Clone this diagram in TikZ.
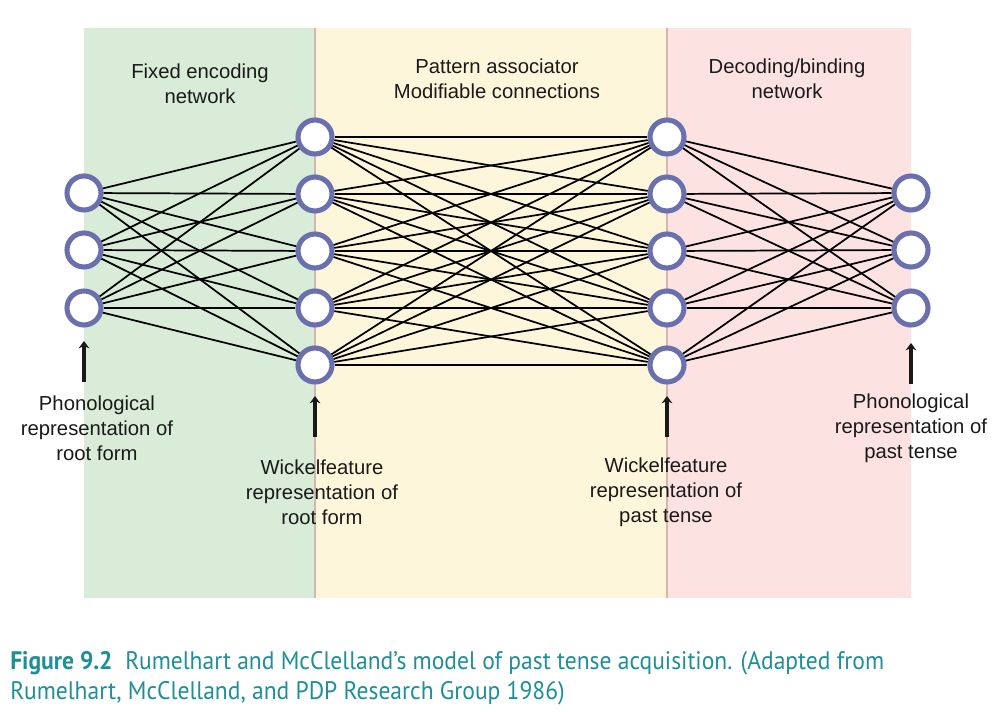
\documentclass[tikz,border=0pt]{standalone}
\usepackage{fontspec}
\setmainfont{Liberation Sans}
\newfontfamily\capfont[FakeStretch=0.93]{PT Sans}
\usetikzlibrary{arrows.meta}
\definecolor{pgreen}{HTML}{D8ECD8}
\definecolor{pyellow}{HTML}{FEF6DB}
\definecolor{ppink}{HTML}{FDE2E2}
\definecolor{divider}{HTML}{D2B6AF}
\definecolor{ring}{HTML}{6A6FAE}
\definecolor{teal}{HTML}{1E8F97}
\definecolor{txt}{HTML}{1A1A1A}
\tikzset{
  unit/.style={circle, draw=ring, fill=white, line width=3.8pt, minimum size=25.5pt, inner sep=0pt},
  conn/.style={line width=1.3pt, black},
  uparrow/.style={line width=2.6pt, black!90, -{Stealth[length=5.5pt,width=8pt]}},
  lbl/.style={text=txt, align=center, font=\fontsize{15.2}{18.75}\selectfont, inner sep=0pt},
}
\begin{document}
\begin{tikzpicture}[x=0.75pt,y=-0.75pt]
\useasboundingbox (0,0) rectangle (1000,712);
\fill[white] (0,0) rectangle (1000,712);
% panels
\fill[pgreen] (84,28) rectangle (315,598);
\fill[pyellow] (315,28) rectangle (667,598);
\fill[ppink] (667,28) rectangle (911,598);
\draw[divider, line width=2.2pt] (315,28) -- (315,598);
\draw[divider, line width=2.2pt] (667,28) -- (667,598);
% units
\foreach \i/\y in {1/193,2/250,3/308} {
  \node[unit] (a\i) at (84,\y) {};
  \node[unit] (d\i) at (911,\y) {};
}
\foreach \i/\y in {1/137,2/194,3/251,4/308,5/365} {
  \node[unit] (b\i) at (315,\y) {};
  \node[unit] (c\i) at (667,\y) {};
}
% connections
\foreach \i in {1,2,3} {
  \foreach \j in {1,...,5} {
    \draw[conn] (a\i) -- (b\j);
    \draw[conn] (c\j) -- (d\i);
  }
}
\foreach \i in {1,...,5} {
  \foreach \j in {1,...,5} {
    \draw[conn] (b\i) -- (c\j);
  }
}
% arrows
\coordinate (pa) at (84,382);
\coordinate (ta) at (84,341);
\coordinate (pb) at (315,437);
\coordinate (tb) at (315,396);
\coordinate (pc) at (667,437);
\coordinate (tc) at (667,396);
\coordinate (pd) at (911,384);
\coordinate (td) at (911,343);
\draw[uparrow] (pa) -- (ta);
\draw[uparrow] (pb) -- (tb);
\draw[uparrow] (pc) -- (tc);
\draw[uparrow] (pd) -- (td);
% labels
\node[lbl] (l1) at (200,84) {Fixed encoding\\network};
\node[lbl] (l2) at (497,79) {Pattern associator\\Modifiable connections};
\node[lbl] (l3) at (787,79) {Decoding/binding\\network};
\node[lbl] (l4) at (97,428) {Phonological\\representation of\\root form};
\node[lbl] (l5) at (322,492) {Wickelfeature\\representation of\\root form};
\node[lbl] (l6) at (666,492) {Wickelfeature\\representation of\\past tense};
\node[lbl] (l7) at (911,428) {Phonological\\representation of\\past tense};
% caption
\node[anchor=base west, inner sep=0pt, text=teal, font=\capfont\fontsize{19}{23}\selectfont] (cap1) at (10,669)
  {\textbf{Figure 9.2}\hspace{0.5em}Rumelhart and McClelland’s model of past tense acquisition. (Adapted from};
\node[anchor=base west, inner sep=0pt, text=teal, font=\capfont\fontsize{19}{23}\selectfont] (cap2) at (10,700)
  {Rumelhart, McClelland, and PDP Research Group 1986)};
\end{tikzpicture}
\end{document}
